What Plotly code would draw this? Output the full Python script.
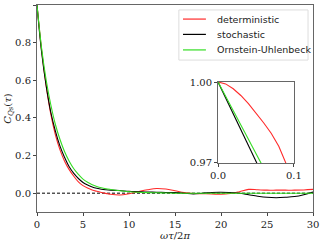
import plotly.graph_objects as go

x_main = [0, 0.5, 1, 1.5, 2, 2.5, 3, 3.5, 4, 4.5, 5, 5.5, 6, 6.5, 7, 7.5, 8, 9, 10, 11, 12, 13, 14, 15,
          16, 17, 18, 19, 20, 21, 22, 23, 24, 25, 26, 27, 28, 29, 30]
det = [1.0, 0.76, 0.57, 0.42, 0.31, 0.23, 0.17, 0.125, 0.09, 0.06, 0.04, 0.027, 0.017, 0.01, 0.004, -0.001,
       -0.006, -0.01, -0.003, 0.008, 0.018, 0.025, 0.022, 0.013, 0.003, -0.002, -0.003, -0.004, -0.006,
       -0.002, 0.008, 0.02, 0.018, 0.016, 0.016, 0.016, 0.016, 0.017, 0.02]
sto = [1.0, 0.75, 0.57, 0.43, 0.33, 0.25, 0.19, 0.14, 0.105, 0.078, 0.057, 0.043, 0.033, 0.026, 0.021,
       0.018, 0.016, 0.014, 0.01, 0.008, 0.006, 0.005, 0.004, 0.003, 0.0, -0.004, 0.0, 0.004, 0.005, 0.003,
       0.0, -0.008, -0.016, -0.022, -0.024, -0.022, -0.018, -0.008, 0.006]
ou = [1.0, 0.77, 0.6, 0.47, 0.365, 0.285, 0.22, 0.17, 0.13, 0.1, 0.075, 0.058, 0.045, 0.036, 0.029, 0.024,
      0.02, 0.013, 0.008, 0.005, 0.003, 0.002, 0.001, 0.0, 0.0, 0.0, 0.0, 0.0, 0.0, 0.0, 0.0, 0.0, 0.0, 0.0,
      0.0, 0.0, 0.0, 0.0, 0.0]

x_in_det = [0, 0.01, 0.02, 0.03, 0.04, 0.05, 0.06, 0.07, 0.08, 0.09, 0.1]
y_in_det = [1.0, 0.9993, 0.9975, 0.995, 0.992, 0.9885, 0.9849, 0.9810, 0.9762, 0.9695, 0.962]
x_in_sto = [0, 0.051, 0.06]
y_in_sto = [1.0, 0.970, 0.9647]
x_in_ou = [0, 0.0565, 0.065]
y_in_ou = [1.0, 0.970, 0.9655]

legend_labels = ["deterministic", "stochastic", "Ornstein-Uhlenbeck"]

RED = "#ff2a2a"
GREEN = "#33dd22"
BLACK = "#000000"
colors = [RED, BLACK, GREEN]

fig = go.Figure()
fig.add_trace(go.Scatter(x=[0, 30], y=[0, 0], mode="lines", line=dict(color="black", width=1, dash="3px,2px"),
                         showlegend=False, hoverinfo="skip"))
for yv, name, c in zip([det, sto, ou], legend_labels, colors):
    fig.add_trace(go.Scatter(x=x_main, y=yv, mode="lines", name=name,
                             line=dict(color=c, width=1.1, shape="spline"), showlegend=False))

fig.add_trace(go.Scatter(x=x_in_det, y=y_in_det, mode="lines", line=dict(color=RED, width=1.1),
                         xaxis="x2", yaxis="y2", showlegend=False))
fig.add_trace(go.Scatter(x=x_in_sto, y=y_in_sto, mode="lines", line=dict(color=BLACK, width=1.1),
                         xaxis="x2", yaxis="y2", showlegend=False))
fig.add_trace(go.Scatter(x=x_in_ou, y=y_in_ou, mode="lines", line=dict(color=GREEN, width=1.1),
                         xaxis="x2", yaxis="y2", showlegend=False))

serif = "DejaVu Serif"
axis_common = dict(showgrid=False, zeroline=False, showline=True, linecolor="#666", linewidth=1,
                   mirror=True, ticks="outside", ticklen=3, tickcolor="#444", automargin=False,
                   tickfont=dict(family=serif, size=10, color="#222"))

# manual legend (box, line samples, labels) in paper coordinates
fig.add_shape(type="rect", xref="paper", yref="paper", x0=0.514, x1=0.982, y0=0.734, y1=0.976,
              line=dict(color="#dddddd", width=1), fillcolor="rgba(255,255,255,0.85)", layer="above")
rows_y = [0.932, 0.858, 0.783]
for ry, name, c in zip(rows_y, legend_labels, colors):
    fig.add_shape(type="line", xref="paper", yref="paper", x0=0.529, x1=0.612, y0=ry, y1=ry,
                  line=dict(color=c, width=1.2), layer="above")
    fig.add_annotation(x=0.645, y=ry, xref="paper", yref="paper", text=name, showarrow=False,
                       xanchor="left", yanchor="middle",
                       font=dict(family="DejaVu Sans", size=9.5, color="#222"))

fig.update_layout(
    width=320, height=243,
    margin=dict(l=37, r=7, t=5, b=31, autoexpand=False),
    paper_bgcolor="white", plot_bgcolor="white",
    xaxis=dict(range=[0, 30], tickvals=[0, 5, 10, 15, 20, 25, 30], ticktext=["0", "5", "10", "15", "20", "25", "30"],
               title=dict(text="<i>ωτ</i>/2<i>π</i>", font=dict(family=serif, size=10, color="#222"), standoff=0),
               **axis_common),
    yaxis=dict(range=[-0.1, 1.0], tickvals=[0, 0.2, 0.4, 0.6, 0.8, 1.0],
               ticktext=["0.0", "0.2", "0.4", "0.6", "0.8", "1.0"],
               title=dict(text="<i>C</i><sub><i>Qs</i></sub>(<i>τ</i>)", font=dict(family=serif, size=10, color="#222"),
                          standoff=0),
               **axis_common),
    xaxis2=dict(domain=[0.656, 0.931], anchor="y2", range=[0, 0.1], tickvals=[0, 0.1], ticktext=["0.0", "0.1"],
                **axis_common),
    yaxis2=dict(domain=[0.237, 0.628], anchor="x2", range=[0.97, 1.0], tickvals=[0.97, 1.0],
                ticktext=["0.97", "1.00"], **axis_common),
    showlegend=False,
)

fig.write_html("out.html", config={"displayModeBar": False, "staticPlot": True},
               post_script="document.body.style.margin='0';document.body.style.overflow='hidden';")
